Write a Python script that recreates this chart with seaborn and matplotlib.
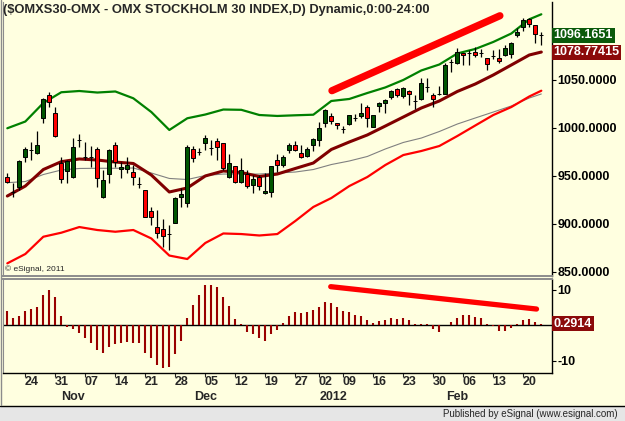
import numpy as np
import matplotlib
matplotlib.use("Agg")
import matplotlib.pyplot as plt
from matplotlib.lines import Line2D
from matplotlib.patches import Rectangle
import seaborn as sns

# ---- daily OHLC, 18 Oct 2011 .. 22 Feb 2012 (one entry per trading day) ----
opens = [949.0, 933.5, 938.2, 969.5, 976.4, 973.4, 1010.1, 1034.0, 1015.3, 963.2,
         954.9, 948.6, 987.0, 969.2, 969.8, 977.8, 927.8, 951.8, 982.0, 956.9,
         956.9, 953.8, 941.0, 935.1, 913.2, 896.5, 894.5, 889.6, 900.7, 927.8,
         921.5, 977.8, 974.4, 984.0, 979.1, 986.1, 984.0, 948.6, 960.1, 943.4,
         951.7, 940.3, 948.6, 931.9, 933.0, 966.3, 961.1, 976.8, 982.0, 973.6,
         970.5, 981.9, 987.2, 1004.9, 1012.2, 1004.9, 998.9, 1003.8, 1009.9, 1012.2,
         1021.5, 1000.7, 1022.6, 1025.7, 1032.0, 1040.3, 1033.0, 1038.2, 1027.6, 1029.9,
         1042.2, 1034.0, 1035.0, 1035.1, 1068.2, 1067.4, 1077.8, 1077.6, 1078.8, 1077.6,
         1072.6, 1074.5, 1072.6, 1075.7, 1076.7, 1096.5, 1104.9, 1113.2, 1107.0, 1096.3]
highs = [952.8, 942.4, 966.3, 979.9, 985.1, 996.5, 1030.5, 1037.2, 1021.5, 969.5,
         966.0, 989.2, 993.4, 985.1, 980.9, 979.9, 955.9, 977.8, 985.1, 964.2,
         969.5, 961.1, 948.6, 935.5, 917.4, 914.3, 904.9, 898.6, 927.8, 937.2,
         981.9, 980.9, 978.8, 992.4, 987.2, 989.2, 984.5, 972.6, 960.5, 968.4,
         955.9, 950.7, 950.7, 952.8, 960.5, 972.6, 971.5, 984.0, 986.1, 981.9,
         979.9, 989.2, 1005.9, 1019.5, 1015.3, 1005.3, 1001.7, 1013.6, 1014.2, 1025.7,
         1023.6, 1013.6, 1026.7, 1029.9, 1039.2, 1041.3, 1042.4, 1039.2, 1034.0, 1051.8,
         1051.8, 1036.1, 1043.4, 1067.4, 1071.5, 1083.0, 1078.2, 1080.9, 1084.0, 1082.0,
         1073.0, 1080.9, 1082.0, 1086.1, 1089.3, 1103.8, 1114.3, 1114.3, 1107.4, 1099.7]
lows = [942.4, 927.8, 935.1, 964.2, 966.3, 972.4, 1004.9, 1021.5, 990.3, 942.4,
        942.4, 947.5, 979.9, 966.3, 959.0, 938.2, 926.7, 942.4, 959.0, 947.6,
        952.8, 940.3, 937.2, 906.5, 898.6, 885.1, 875.7, 872.6, 900.7, 917.4,
        917.4, 964.2, 971.5, 976.8, 971.5, 966.3, 955.9, 947.6, 942.4, 942.4,
        937.2, 931.9, 935.1, 930.9, 927.8, 953.8, 959.0, 973.6, 975.7, 968.4,
        969.5, 975.7, 980.9, 1000.7, 1003.8, 998.6, 994.5, 1002.8, 1007.0, 1010.1,
        1000.7, 1000.3, 1016.3, 1015.3, 1029.9, 1032.0, 1030.9, 1023.6, 1019.5, 1028.8,
        1037.2, 1021.5, 1034.0, 1034.8, 1058.0, 1066.3, 1065.3, 1065.3, 1073.6, 1073.6,
        1060.1, 1071.5, 1067.4, 1074.7, 1072.6, 1094.5, 1100.7, 1104.9, 1088.2, 1086.1]
closes = [943.4, 933.0, 965.3, 977.8, 977.0, 982.0, 1029.9, 1026.7, 991.3, 946.5,
          965.3, 979.9, 987.6, 969.8, 969.2, 947.6, 945.5, 976.8, 964.2, 959.0,
          961.1, 948.6, 941.6, 907.0, 907.0, 890.3, 887.2, 889.0, 926.7, 930.9,
          979.9, 968.4, 975.0, 989.2, 978.5, 979.9, 958.0, 963.2, 943.4, 955.9,
          939.2, 946.5, 939.2, 934.0, 960.1, 961.1, 969.5, 981.9, 976.8, 969.5,
          977.8, 988.2, 999.7, 1018.4, 1007.0, 1002.8, 998.3, 1013.2, 1010.4, 1015.3,
          1010.1, 1013.2, 1025.7, 1028.8, 1038.2, 1034.0, 1041.3, 1035.1, 1028.0, 1046.5,
          1042.6, 1029.9, 1035.3, 1065.3, 1068.6, 1078.8, 1075.7, 1078.0, 1075.7, 1078.0,
          1066.3, 1074.9, 1069.5, 1083.0, 1088.2, 1099.7, 1112.2, 1108.0, 1097.6, 1096.1651]

# ---- bands / averages, read every third session ----
band_idx = [0, 3, 6, 9, 12, 15, 18, 21, 24, 27, 30, 33, 36, 39, 42, 45,
            48, 51, 54, 57, 60, 63, 66, 69, 72, 75, 78, 81, 84, 87, 89]
upper_band = [999.4, 1006.4, 1025.7, 1036.9, 1038.2, 1036.6, 1037.7, 1030.6, 1016.3, 997.6,
              1009.8, 1013.7, 1018.9, 1018.6, 1013.2, 1012.2, 1012.9, 1013.5, 1027.8, 1029.9,
              1036.1, 1041.9, 1049.7, 1059.6, 1065.8, 1077.3, 1082.0, 1089.3, 1098.1, 1112.9, 1118.1]
mid_band = [928.8, 939.2, 956.4, 964.6, 967.4, 966.3, 964.2, 962.7, 950.7, 933.0,
            937.2, 949.7, 954.9, 953.3, 949.1, 951.7, 957.5, 963.2, 977.3, 985.1,
            992.4, 1001.7, 1011.1, 1020.5, 1027.8, 1037.7, 1045.5, 1054.9, 1065.3, 1075.7, 1078.77]
lower_band = [858.7, 868.4, 886.4, 890.6, 896.5, 893.4, 891.6, 893.4, 884.6, 866.8,
              863.2, 879.9, 889.8, 889.2, 887.7, 889.2, 902.8, 917.4, 926.7, 939.2,
              948.6, 961.1, 971.5, 975.7, 980.9, 991.3, 1002.3, 1013.2, 1021.5, 1032.5, 1038.5]
slow_ma = [942.7, 943.9, 951.2, 955.9, 957.5, 957.7, 957.7, 958.0, 952.8, 947.1,
           946.0, 950.2, 951.7, 951.7, 951.7, 952.8, 953.8, 956.4, 961.6, 965.3,
           970.0, 977.8, 984.6, 989.2, 996.0, 1003.8, 1010.1, 1016.3, 1022.6, 1030.9, 1035.1]

# ---- oscillator histogram ----
osc = [3.9, 2.1, 2.6, 4.0, 4.6, 5.2, 8.5, 9.9, 8.0, 2.6,
       -0.5, -1.2, -2.2, -3.8, -5.0, -7.0, -7.8, -6.3, -5.4, -5.0,
       -4.8, -5.0, -5.2, -7.8, -9.2, -11.2, -12.1, -11.7, -8.2, -4.5,
       1.9, 5.6, 8.5, 11.3, 11.3, 10.8, 8.0, 5.4, 1.7, 0.3,
       -1.9, -2.6, -3.8, -4.4, -2.6, -1.4, 0.7, 2.5, 3.6, 3.5,
       3.8, 4.2, 5.0, 6.4, 6.3, 5.2, 4.0, 3.6, 2.8, 2.5,
       1.4, 0.7, 1.1, 1.4, 1.9, 1.8, 1.9, 1.4, 0.3, 0.3,
       0.3, -1.2, -1.9, 0.1, 0.9, 2.1, 2.8, 2.8, 2.3, 1.9,
       0.3, -0.3, -1.6, -1.6, -0.9, 0.2, 1.4, 1.6, 0.9, 0.2914]

# hand drawn trend marks
price_trend_x = [54.1, 82.1]
price_trend_y = [1038.5, 1116.6]
osc_trend_x = [53.9, 88.2]
osc_trend_y = [10.8, 4.5]

# axis labels
day_idx = [4, 9, 14, 19, 24, 29, 34, 39, 44, 49, 53, 57, 62, 67, 72, 77, 82, 87]
day_labels = ['24', '31', '07', '14', '21', '28', '05', '12', '19', '27',
              '02', '09', '16', '23', '30', '06', '13', '20']
month_idx = [11, 33, 54.3, 75]
month_labels = ['Nov', 'Dec', '2012', 'Feb']
price_ticks = [850, 900, 950, 1000, 1050]
osc_ticks = [10, -10]

TITLE = "($OMXS30-OMX - OMX STOCKHOLM 30 INDEX,D) Dynamic,0:00-24:00"

# ------------------------------------------------------------------------
sns.set_style("white")
plt.rcParams['font.family'] = ['Liberation Sans', 'DejaVu Sans']

BG = '#FFFFE0'
W, H = 625, 421
fig = plt.figure(figsize=(6.25, 4.21), dpi=100, facecolor=BG)


def px_box(l, t, r, b):
    return [l / W, 1 - b / H, (r - l) / W, (b - t) / H]


ax = fig.add_axes(px_box(3, 2, 552, 276), facecolor=BG)
ax_lo = fig.add_axes(px_box(3, 279, 552, 373), facecolor=BG, sharex=ax)

x = np.arange(len(closes))
o = np.array(opens)
c = np.array(closes)
body_col = np.where(c >= o, '#005500', '#FF0000')

# bands
sns.lineplot(x=band_idx, y=slow_ma, ax=ax, color='#808080', lw=0.8, zorder=2)
sns.lineplot(x=band_idx, y=upper_band, ax=ax, color='#008000', lw=1.6, zorder=2)
sns.lineplot(x=band_idx, y=lower_band, ax=ax, color='#FF0000', lw=1.6, zorder=2)
sns.lineplot(x=band_idx, y=mid_band, ax=ax, color='#800000', lw=2.2, zorder=2)

# candles
ax.vlines(x, lows, highs, color='black', lw=0.9, zorder=3)
ax.bar(x, np.abs(c - o), bottom=np.minimum(o, c), width=0.72, color=body_col,
       edgecolor='black', lw=0.7, zorder=4)

# trend marks
ax.plot(price_trend_x, price_trend_y, color='#FF0000', lw=5.2, solid_capstyle='round', zorder=5)
ax_lo.plot(osc_trend_x, osc_trend_y, color='#FF0000', lw=3.8, solid_capstyle='round', zorder=5)

# oscillator
ax_lo.axhline(0, color='black', lw=1, zorder=2)
ax_lo.vlines(x, 0, osc, color='#990000', lw=1.5, zorder=3)

ax.set_xlim(-0.72, 90.78)
ax.set_ylim(845.5, 1130.9)
ax_lo.set_ylim(-13.52, 12.96)

# y axes on the right
for a in (ax, ax_lo):
    a.yaxis.tick_right()
    a.tick_params(axis='y', length=3, width=0.8, direction='out', pad=1,
                  labelsize=9, colors='black', right=True, left=False)
ax.set_yticks(price_ticks)
ax.set_yticklabels([f"{v:.4f}" for v in price_ticks], fontweight='bold')
ax_lo.set_yticks(osc_ticks)
ax_lo.set_yticklabels([str(v) for v in osc_ticks], fontweight='bold')

ax.tick_params(axis='x', bottom=False, labelbottom=False)
ax_lo.set_xticks(day_idx)
ax_lo.set_xticklabels(day_labels, fontweight='bold')
ax_lo.set_xticks([i - 1 for i in day_idx], minor=True)
ax_lo.tick_params(axis='x', which='major', length=0, pad=2, labelsize=9)
ax_lo.tick_params(axis='x', which='minor', length=3, width=0.8, direction='out', bottom=True)

for lab, pos in zip(month_labels, month_idx):
    ax_lo.text(pos, -0.255, lab, transform=ax_lo.get_xaxis_transform(),
               ha='center', va='center', fontsize=9, fontweight='bold')

# spines
for a in (ax, ax_lo):
    a.spines['left'].set_color('#8C8C8C')
    a.spines['right'].set_color('black')
    a.spines['right'].set_linewidth(1)
ax.spines['top'].set_visible(False)
ax.spines['bottom'].set_color('#8C8C8C')
ax.spines['bottom'].set_linewidth(1.4)
ax_lo.spines['top'].set_color('#8C8C8C')
ax_lo.spines['top'].set_linewidth(1.4)
ax_lo.spines['bottom'].set_color('black')
ax_lo.spines['bottom'].set_linewidth(1)

# last value boxes
ytr = ax.get_yaxis_transform()
ax.text(1.003, closes[-1], f"{closes[-1]:.4f}", transform=ytr, color='white',
        fontsize=9, fontweight='bold', va='center', ha='left', clip_on=False,
        bbox=dict(boxstyle='square,pad=0.12', fc='#0B5A0B', ec='none'))
ax.text(1.003, mid_band[-1], "1078.77415", transform=ytr, color='white',
        fontsize=9, fontweight='bold', va='center', ha='left', clip_on=False,
        bbox=dict(boxstyle='square,pad=0.12', fc='#8B0A0A', ec='none'))
ax_lo.text(1.003, osc[-1], f"{osc[-1]:.4f}", transform=ax_lo.get_yaxis_transform(),
           color='white', fontsize=9, fontweight='bold', va='center', ha='left',
           clip_on=False, bbox=dict(boxstyle='square,pad=0.12', fc='#8B0A0A', ec='none'))

# texts
fig.text(3 / W, 1 - 10 / H, TITLE, fontsize=9.3, fontweight='bold', va='center', ha='left')
ax.text(0.003, 0.025, "\u00a9 eSignal, 2011", transform=ax.transAxes, fontsize=6,
        va='center', ha='left')

# status bar and frame
fig.add_artist(Rectangle((0, 0), 1, 15 / H, transform=fig.transFigure,
                         fc='#E6E6E6', ec='none'))
fig.add_artist(Line2D([0, 1], [15.5 / H, 15.5 / H], transform=fig.transFigure,
                      color='black', lw=1))
fig.add_artist(Line2D([1.5 / W, 1.5 / W], [16 / H, 1], transform=fig.transFigure,
                      color='#8C8C8C', lw=1))
fig.text(618 / W, 7 / H, "Published by eSignal (www.esignal.com)", fontsize=7,
         ha='right', va='center')

fig.savefig("out.png", dpi=100, facecolor=BG)
